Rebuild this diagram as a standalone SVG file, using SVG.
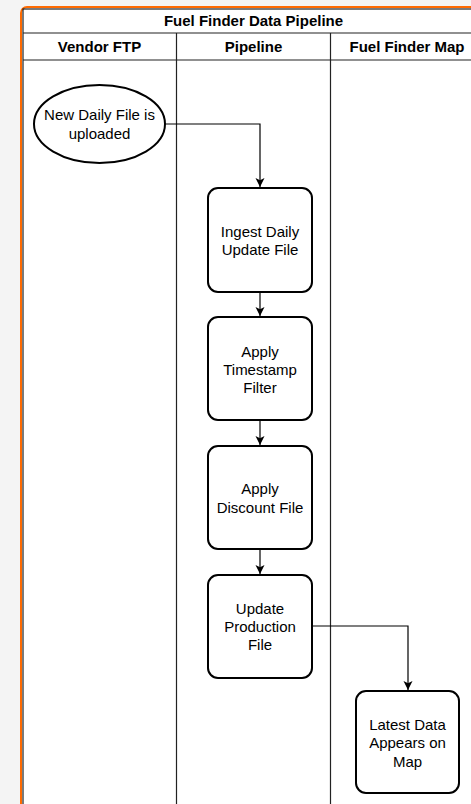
<svg xmlns="http://www.w3.org/2000/svg" width="471" height="804" viewBox="0 0 471 804">
<defs>
<style>
.t{font-family:"Liberation Sans",Arial,sans-serif;font-size:15px;fill:#000;text-anchor:middle}
.b{font-weight:bold}
.box{fill:#fff;stroke:#000;stroke-width:2}
.ln{fill:none;stroke:#222;stroke-width:1.2}
.c{fill:none;stroke:#000;stroke-width:1.2}
</style>
<marker id="ah" markerWidth="10" markerHeight="10" refX="9" refY="5" orient="auto" markerUnits="userSpaceOnUse">
<path d="M0,0.5 L9,5 L0,9.5 L2.2,5 Z" fill="#000"/>
</marker>
</defs>
<rect x="0" y="0" width="471" height="804" fill="#f4f4f4"/>
<rect x="21" y="7" width="470" height="820" rx="6" fill="#fff" stroke="#ff6a00" stroke-width="2"/>
<g id="pool">
<rect x="23" y="9" width="461" height="800" class="ln"/>
<line x1="23" y1="33" x2="484" y2="33" class="ln"/>
<line x1="23" y1="60" x2="484" y2="60" class="ln"/>
<line x1="176.5" y1="33" x2="176.5" y2="809" class="ln"/>
<line x1="330.5" y1="33" x2="330.5" y2="809" class="ln"/>
<text class="t b" x="253.5" y="25.5">Fuel Finder Data Pipeline</text>
<text class="t b" x="99.5" y="52">Vendor FTP</text>
<text class="t b" x="253.5" y="52">Pipeline</text>
<text class="t b" x="407" y="52">Fuel Finder Map</text>
</g>
<g id="connectors">
<path class="c" d="M165,124 H260 V187" marker-end="url(#ah)"/>
<path class="c" d="M260,292 V316" marker-end="url(#ah)"/>
<path class="c" d="M260,420 V445" marker-end="url(#ah)"/>
<path class="c" d="M260,549 V574" marker-end="url(#ah)"/>
<path class="c" d="M312,626 H408 V690" marker-end="url(#ah)"/>
</g>
<g id="start">
<ellipse class="box" cx="99.5" cy="124" rx="65.5" ry="39"/>
<text class="t" x="99.5" y="120">New Daily File is</text>
<text class="t" x="99.5" y="139">uploaded</text>
</g>
<g id="ingest">
<rect class="box" x="208" y="188" width="104" height="104" rx="10"/>
<text class="t" x="260" y="237">Ingest Daily</text>
<text class="t" x="260" y="255">Update File</text>
</g>
<g id="timestamp">
<rect class="box" x="208" y="317" width="104" height="103" rx="10"/>
<text class="t" x="260" y="357">Apply</text>
<text class="t" x="260" y="375">Timestamp</text>
<text class="t" x="260" y="393">Filter</text>
</g>
<g id="discount">
<rect class="box" x="208" y="446" width="104" height="103" rx="10"/>
<text class="t" x="260" y="494">Apply</text>
<text class="t" x="260" y="513">Discount File</text>
</g>
<g id="production">
<rect class="box" x="208" y="575" width="104" height="103" rx="10"/>
<text class="t" x="260" y="614">Update</text>
<text class="t" x="260" y="632">Production</text>
<text class="t" x="260" y="650">File</text>
</g>
<g id="map">
<rect class="box" x="356" y="691" width="103" height="102" rx="10"/>
<text class="t" x="407.5" y="730">Latest Data</text>
<text class="t" x="407.5" y="748">Appears on</text>
<text class="t" x="407.5" y="767">Map</text>
</g>
</svg>
